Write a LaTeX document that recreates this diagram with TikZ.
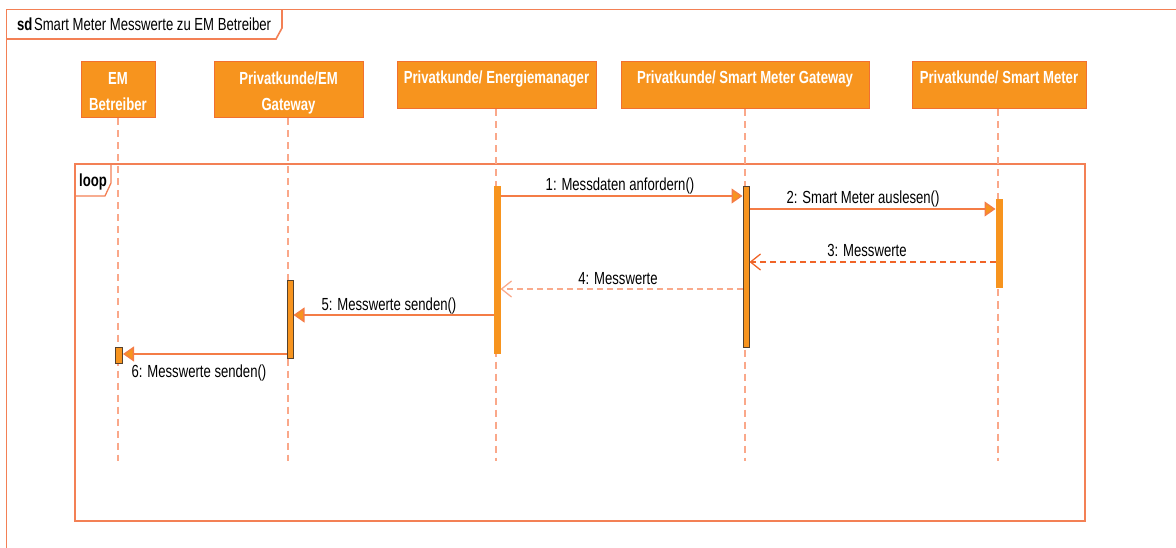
\documentclass[tikz,border=0pt]{standalone}
\usepackage{fontspec}
\setmainfont{Liberation Sans}[FakeStretch=0.75]
\usetikzlibrary{arrows.meta}

\definecolor{boxfill}{RGB}{247,148,30}
\definecolor{boxline}{RGB}{241,112,48}
\definecolor{frameline}{RGB}{243,128,85}
\definecolor{lifeln}{RGB}{250,168,138}
\definecolor{msgline}{RGB}{244,124,70}
\definecolor{retdark}{RGB}{240,100,40}
\definecolor{retlight}{RGB}{249,170,140}
\definecolor{barline}{RGB}{85,65,45}

\newcommand{\txtfont}{\fontsize{17.5}{21}\selectfont}

\tikzset{
  frm/.style={draw=frameline, line width=1.6pt},
  headbox/.style={draw=boxline, line width=1pt, fill=boxfill, rectangle, inner sep=0pt},
  headtext/.style={anchor=base, text=white, font=\txtfont\bfseries, inner sep=0pt},
  lifeline/.style={draw=lifeln, line width=1.4pt, dash pattern=on 7pt off 5pt},
  actbar/.style={rectangle, fill=boxfill, draw=boxfill, line width=1pt, minimum width=6pt, inner sep=0pt},
  actdark/.style={actbar, draw=barline},
  msg/.style={draw=msgline, line width=1.3pt, -{Triangle[length=11pt, width=15pt, fill=boxfill]}},
  retmsg/.style={draw=retdark, line width=1.3pt, dash pattern=on 6pt off 4pt, -{Straight Barb[length=10pt, width=16pt]}},
  retmsglight/.style={retmsg, draw=retlight},
  msgtext/.style={anchor=base, font=\txtfont, inner sep=0pt, text=black},
}

\begin{document}
\begin{tikzpicture}[x=1pt, y=-1pt]
\useasboundingbox (0,0) rectangle (1176,548);

% diagram frame with its name tab
\draw[frm] (6.5,552) -- (6.5,9.5) -- (1180,9.5);
\draw[frm] (6.5,39) -- (276,39) -- (282,28) -- (282,9.5);
\node[anchor=base west, font=\txtfont, inner sep=0pt] (title) at (17,31)
  {{\bfseries sd}\hspace{1.5pt}Smart Meter Messwerte zu EM Betreiber};

% loop fragment
\draw[frm, line width=1.3pt] (75,164) rectangle (1085,521);
\draw[frm, line width=1.3pt] (75,196) -- (105,196) -- (111,183) -- (111,164);
\node[anchor=base west, font=\txtfont\bfseries, inner sep=0pt] (looplbl) at (79,187) {loop};

% lifeline heads
\node[headbox, minimum width=74pt,  minimum height=56pt] (emb)  at (118,90)    {};
\node[headbox, minimum width=149pt, minimum height=56pt] (gw)   at (288.5,90)  {};
\node[headbox, minimum width=199pt, minimum height=47pt] (enm)  at (496.5,85.5) {};
\node[headbox, minimum width=248pt, minimum height=47pt] (smgw) at (745,85.5)  {};
\node[headbox, minimum width=174pt, minimum height=47pt] (sm)   at (999,85.5)  {};

\node[headtext] (embA)  at (118,85)   {EM};
\node[headtext] (embB)  at (118,111)  {Betreiber};
\node[headtext] (gwA)   at (288.5,85) {Privatkunde/EM};
\node[headtext] (gwB)   at (288.5,111){Gateway};
\node[headtext] (enmA)  at (496.5,84) {Privatkunde/ Energiemanager};
\node[headtext] (smgwA) at (745,84)   {Privatkunde/ Smart Meter Gateway};
\node[headtext] (smA)   at (999,84)   {Privatkunde/ Smart Meter};

% lifeline ends
\coordinate (embEnd)  at (118,461);
\coordinate (gwEnd)   at (288,461);
\coordinate (enmEnd)  at (496,461);
\coordinate (smgwEnd) at (745,461);
\coordinate (smEnd)   at (998,461);

\draw[lifeline] (emb.south -| embEnd)   -- (embEnd);
\draw[lifeline] (gw.south -| gwEnd)     -- (gwEnd);
\draw[lifeline] (enm.south -| enmEnd)   -- (enmEnd);
\draw[lifeline] (smgw.south -| smgwEnd) -- (smgwEnd);
\draw[lifeline] (sm.south -| smEnd)     -- (smEnd);

% activation bars
\node[actbar,  minimum height=166pt] (enmBar)  at (497,270)   {};
\node[actdark, minimum height=160pt] (smgwBar) at (746,267)   {};
\node[actbar,  minimum height=88pt]  (smBar)   at (999,244)   {};
\node[actdark, minimum height=77pt]  (gwBar)   at (290,319.5) {};
\node[actdark, minimum height=16pt, minimum width=7pt] (embBar) at (119,355) {};

% messages
\draw[msg] (enmBar.east |- 0,196) -- (smgwBar.west |- 0,196);
\node[msgtext] (l1) at (620,191) {1: Messdaten anfordern()};

\draw[msg] (smgwBar.east |- 0,209) -- (smBar.west |- 0,209);
\node[msgtext] (l2) at (863,204) {2: Smart Meter auslesen()};

\draw[retmsg] (smBar.west |- 0,262) -- (smgwBar.east |- 0,262);
\node[msgtext] (l3) at (867,257) {3: Messwerte};

\draw[retmsglight] (smgwBar.west |- 0,289) -- (enmBar.east |- 0,289);
\node[msgtext] (l4) at (618,284) {4: Messwerte};

\draw[msg] (enmBar.west |- 0,315) -- (gwBar.east |- 0,315);
\node[msgtext] (l5) at (389,311) {5: Messwerte senden()};

\draw[msg] (gwBar.west |- 0,354) -- (embBar.east |- 0,354);
\node[msgtext] (l6) at (199,377) {6: Messwerte senden()};

\end{tikzpicture}
\end{document}
